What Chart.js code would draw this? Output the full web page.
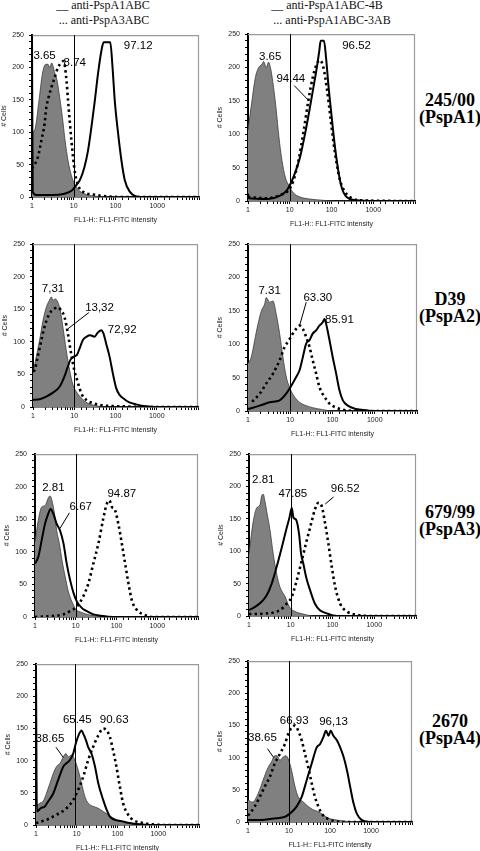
<!DOCTYPE html>
<html lang="en">
<head>
<meta charset="UTF-8">
<title>PspA antibody binding - flow cytometry</title>
<script src="https://cdn.jsdelivr.net/npm/chart.js@4"></script>
<style>
body {
    margin: 0;
    background: #fff;
    width: 480px;
    height: 851px;
    position: relative;
    overflow: hidden;
    font-family: 'Liberation Sans', Arial, sans-serif;
}
canvas { position: absolute; }
.hdr {
    position: absolute;
    font-family: 'Liberation Serif', 'Times New Roman', serif;
    font-size: 12px;
    line-height: 12px;
    color: #111;
    white-space: nowrap;
    transform: translateX(-50%);
}
.strain {
    position: absolute;
    left: 450px;
    transform: translateX(-50%);
    font-family: 'Liberation Serif', 'Times New Roman', serif;
    font-weight: bold;
    font-size: 18px;
    line-height: 17px;
    text-align: center;
    white-space: nowrap;
}
</style>
</head>
<body>
<div class="hdr" style="left:103px;top:-1px">__ anti-PspA1ABC</div>
<div class="hdr" style="left:104px;top:14px">... anti-PspA3ABC</div>
<div class="hdr" style="left:327px;top:-1px">__ anti-PspA1ABC-4B</div>
<div class="hdr" style="left:332px;top:14px">... anti-PspA1ABC-3AB</div>
<div id="strains"></div>
<script>
// [FL1 intensity, # cells]
const gray245L = [[1,100],[1.16,103],[1.47,149],[1.77,190],[2.13,205],[2.42,205],[2.65,200],[2.96,207],[3.5,192],[3.98,180],[4.6,154],[5.35,123],[6.2,87],[7.3,56],[8.8,33],[10.8,18],[14,9],[20,4],[35,1],[73,0],[10000,0]];
const solid245L = [[1,250],[1.04,8],[1.3,3],[3,3],[6,5],[9,10],[12,20],[14,26],[18,46],[22,72],[26.5,108],[32,149],[38,190],[46,226],[52,239],[75,239],[85,200],[96,149],[116,97],[139,56],[167,26],[221,8],[316,1],[500,0],[10000,0]];
const dotted245L = [[1,44],[1.05,46],[1.39,62],[1.67,87],[2.0,113],[2.2,138],[2.5,154],[2.9,169],[3.5,185],[4.2,200],[5.1,208],[5.75,210],[6.7,180],[7.3,149],[8,118],[8.8,87],[9.6,62],[10.8,36],[12.7,18],[16.7,8],[29,4],[61,1],[150,0],[10000,0]];

const gray245R = [[1,106],[1.25,151],[1.5,185],[1.8,200],[2.16,205],[2.37,209],[2.74,200],[3.1,208],[3.5,198],[4.1,170],[4.75,136],[5.5,96],[6.5,61],[7.8,36],[10,21],[12.3,12],[17.7,6],[30,3],[64,1],[110,0],[10000,0]];
const solid245R = [[1,11],[1.05,4],[3,3],[5.9,8],[8.5,16],[11.2,30],[14.8,50],[17.7,66],[23.3,101],[29.6,136],[36.8,170],[44.5,200],[51,225],[55,240],[66,240],[74,215],[84,175],[101,126],[121,81],[145,46],[174,21],[230,6],[400,1],[1000,0],[10000,0]];
const dotted245R = [[1,6],[2.8,4],[5.9,9],[9.3,16],[12.3,31],[16.2,61],[21,101],[28,151],[35.5,185],[44,205],[53,211],[64,200],[77,170],[92,131],[110,91],[133,56],[160,31],[210,14],[275,6],[480,1],[10000,0]];

const grayD39L = [[1,52],[1.2,77],[1.45,103],[1.75,133],[2.1,153],[2.5,164],[2.8,169],[3.05,164],[3.5,166],[4.0,161],[4.6,148],[5.3,123],[6.4,87],[7.7,57],[9.3,34],[11.1,24],[14.7,14],[21,6],[34,2],[60,0],[10000,0]];
const solidD39L = [[1,11],[1.45,12],[2.1,16],[3.05,22],[4.4,31],[5.8,47],[7,62],[8,72],[9.6,77],[11.6,80],[13.5,90],[16.2,103],[20,108],[24.4,110],[31,108],[37,114],[45,118],[51,113],[59,98],[72,77],[86,52],[104,29],[124,19],[165,12],[217,7],[314,4],[550,1],[1000,0],[10000,0]];
const dottedD39L = [[1,55],[1.1,57],[1.3,77],[1.6,103],[1.9,123],[2.5,143],[3.3,151],[4,153],[4.85,148],[5.8,138],[7,113],[8.4,82],[10,57],[12.3,37],[14.8,21],[19.5,11],[28,6],[59,2],[180,1],[400,0],[10000,0]];

const grayD39R = [[1,71],[1.2,81],[1.44,106],[1.72,130],[2.07,150],[2.47,160],[2.7,170],[3.25,163],[3.9,165],[4.67,145],[5.6,116],[6.7,81],[8.05,51],[10,33],[12.7,21],[16.6,13],[23.8,8],[34,5],[59,2],[100,0],[10000,0]];
const solidD39R = [[1,3],[1.9,8],[3.25,13],[5.6,16],[8,26],[10.6,38],[13.8,51],[16.6,61],[19.9,81],[23.8,101],[28.6,106],[34,116],[41,121],[49,128],[59,133],[65,138],[71,130],[85,106],[101,81],[122,56],[146,31],[176,16],[230,8],[360,3],[620,1],[1000,0],[10000,0]];
const dottedD39R = [[1.25,14],[1.9,26],[2.7,41],[3.9,56],[5.6,76],[7.35,96],[9.3,106],[11.5,116],[13.8,123],[16.6,128],[19.9,123],[23.8,111],[28.6,96],[34,76],[41,56],[49,36],[65,21],[85,11],[122,5],[210,1],[400,0],[10000,0]];

const gray679L = [[1,115],[1.2,148],[1.46,169],[1.76,171],[2.13,183],[2.34,186],[2.72,174],[3.1,153],[3.4,133],[3.96,113],[4.6,87],[5.5,62],[6.6,39],[8,24],[10,12],[14,7],[22,3],[40,1],[80,0],[10000,0]];
const solid679L = [[1,82],[1.2,92],[1.46,118],[1.76,143],[2.13,159],[2.4,166],[2.8,159],[3.4,143],[4.1,133],[5,113],[6,82],[7.25,57],[8.8,37],[10.6,24],[14,14],[18.6,9],[27,4],[40,2],[84,0],[10000,0]];
const dotted679L = [[1,0],[2,1],[5,4],[7.25,9],[10.6,16],[15.4,32],[20.5,52],[27,82],[36,113],[48,153],[58,174],[67,179],[77,169],[92,164],[111,143],[135,113],[163,82],[196,52],[237,26],[314,11],[460,4],[800,0],[10000,0]];

const gray679R = [[1,96],[1.27,147],[1.53,167],[1.84,172],[2.0,185],[2.2,188],[2.4,178],[2.65,162],[3.2,132],[3.8,96],[4.6,65],[5.5,45],[7.3,30],[9.3,14],[12.7,7],[20,3],[35,0],[10000,0]];
const solid679R = [[1,9],[1.4,14],[2,22],[2.65,32],[3.5,50],[4.6,76],[6.1,106],[7.7,132],[9.3,152],[10.6,167],[11.6,152],[13.4,149],[15.8,127],[17.7,96],[20,81],[23.4,60],[29,40],[38,19],[50,9],[73,4],[127,0],[10000,0]];
const dotted679R = [[1,3],[2.65,4],[5.5,9],[8,19],[10.6,30],[13.9,55],[18.4,86],[24,116],[32,147],[38,165],[46,175],[55,170],[67,142],[80,111],[96,76],[116,45],[153,19],[220,7],[380,2],[800,0],[10000,0]];

const gray2670L = [[1,29],[1.25,34],[1.5,37],[1.8,49],[2.2,65],[2.65,80],[3.2,91],[3.9,96],[4.7,106],[5.4,111],[6.2,106],[7.5,109],[9,101],[10.9,85],[13.1,65],[15.9,44],[19.1,34],[25,29],[33.7,26],[44.5,21],[59,16],[78,11],[114,6],[200,2],[350,0],[10000,0]];
const solid2670L = [[1,242],[1.05,21],[1.3,26],[1.66,29],[2,37],[2.65,49],[3.5,70],[4.7,91],[5.6,96],[6.8,101],[8.2,111],[9.5,127],[11.5,142],[13.1,147],[14.4,142],[16.8,132],[19.1,121],[23,111],[28,91],[33.7,65],[44.5,39],[54,24],[65,13],[86,8],[125,6],[200,3],[350,1],[620,0],[10000,0]];
const dotted2670L = [[1,3],[1.8,8],[3.2,16],[5.6,26],[8.2,39],[10.9,55],[14.4,75],[19.1,101],[25,121],[33.7,139],[44.5,150],[54,147],[65,137],[78,116],[94,91],[114,60],[137,34],[183,16],[240,8],[420,3],[750,1],[1500,0],[10000,0]];

const gray2670R = [[1,34],[1.3,31],[1.76,44],[2.33,65],[3.1,85],[3.7,93],[4.5,103],[5.1,103],[6,96],[7.2,101],[8.4,103],[9.6,98],[11.6,80],[14,55],[16.8,39],[22.4,31],[29.5,24],[39,19],[52,16],[69,11],[92,6],[147,3],[260,1],[550,0],[10000,0]];
const solid2670R = [[1,3],[1.93,3],[4.95,6],[7.9,8],[10.5,13],[15.3,24],[20.4,39],[27,65],[35.8,91],[47.5,116],[57,121],[69,132],[80,142],[92,134],[104,142],[121,134],[147,127],[177,116],[215,101],[260,80],[310,55],[375,29],[450,13],[600,3],[960,0],[10000,0]];
const dotted2670R = [[1,10],[1.1,13],[1.45,24],[1.93,39],[2.56,55],[3.4,70],[4.5,91],[6,106],[7.9,121],[9.6,137],[11.6,147],[14,150],[16.8,142],[20.4,127],[24.5,106],[29.5,85],[35.8,60],[43,39],[52,24],[63,13],[83,6],[121,2],[215,0],[10000,0]];

// gate (marker) positions, FL1 intensity
const gates = [10, 10, 10, 10, 10, 10, 9.3, 10];

// percent-positive values, placed in data units; 'from'/'to' = leader line
const notes245L = [{ t: '3.65', x: 2.0, y: 218 }, { t: '8.74', x: 10.6, y: 207 }, { t: '97.12', x: 350, y: 234 }];
const notes245R = [{ t: '3.65', x: 3.4, y: 216 }, { t: '94.44', x: 10.6, y: 183, from: [12.8, 173], to: [28, 151] }, { t: '96.52', x: 398, y: 233 }];
const notesD39L = [{ t: '7,31', x: 3.05, y: 181 }, { t: '13,32', x: 41, y: 153, from: [22.6, 145], to: [7, 120] }, { t: '72,92', x: 145, y: 118 }];
const notesD39R = [{ t: '7.31', x: 3.25, y: 180 }, { t: '63.30', x: 45, y: 170, from: [23.9, 163], to: [16.6, 128] }, { t: '85.91', x: 146, y: 136 }];
const notes679L = [{ t: '2.81', x: 2.82, y: 198 }, { t: '6.67', x: 13.3, y: 169, from: [7.0, 160], to: [4.1, 136] }, { t: '94.87', x: 135, y: 189 }];
const notes679R = [{ t: '2.81', x: 2.2, y: 211 }, { t: '47.85', x: 11.2, y: 189 }, { t: '96.52', x: 201, y: 197, from: [106, 184], to: [67, 173] }];
const notes2670L = [{ t: '38.65', x: 2.2, y: 134, from: [3.09, 121], to: [4.67, 105] }, { t: '65.45', x: 10.3, y: 163 }, { t: '90.63', x: 83, y: 163 }];
const notes2670R = [{ t: '38.65', x: 2.25, y: 131, from: [2.98, 114], to: [4.26, 100] }, { t: '66,93', x: 13.4, y: 157 }, { t: '96,13', x: 122, y: 155 }];

const strains = ['245/00', 'D39', '679/99', '2670'];
const pspFamilies = ['(PspA1)', '(PspA2)', '(PspA3)', '(PspA4)'];
const xTitle = 'FL1-H:: FL1-FITC intensity';
const yTitle = '# Cells';

// page layout: plot-area rectangles [left, top, right, bottom]
const areas = [
    [32, 34, 199, 197], [248, 33, 415, 201],
    [33, 243, 198, 407], [248, 243, 417, 411],
    [35, 453, 198, 617], [249, 453, 416, 616],
    [36, 663, 199, 825], [248, 660, 412, 822]
];
const strainTops = [92, 291, 504, 713];

const panels = [
    [gray245L, solid245L, dotted245L, notes245L],
    [gray245R, solid245R, dotted245R, notes245R],
    [grayD39L, solidD39L, dottedD39L, notesD39L],
    [grayD39R, solidD39R, dottedD39R, notesD39R],
    [gray679L, solid679L, dotted679L, notes679L],
    [gray679R, solid679R, dotted679R, notes679R],
    [gray2670L, solid2670L, dotted2670L, notes2670L],
    [gray2670R, solid2670R, dotted2670R, notes2670R]
];

const AX_W = 34, AX_H = 30, PAD = 8;

function toXY(pairs) {
    return pairs.map(p => ({ x: p[0], y: p[1] }));
}

function isDecade(v) {
    const l = Math.log10(v);
    return Math.abs(l - Math.round(l)) < 1e-6 && v < 10000;
}

function overlay(gate, notes) {
    return {
        id: 'overlay',
        beforeDatasetsDraw(chart) {
            const { ctx, chartArea: a } = chart;
            ctx.save();
            ctx.strokeStyle = '#9a9a9a';
            ctx.lineWidth = 1.2;
            ctx.beginPath();
            ctx.moveTo(a.left, a.top + 0.5);
            ctx.lineTo(a.right - 0.5, a.top + 0.5);
            ctx.lineTo(a.right - 0.5, a.bottom);
            ctx.stroke();
            ctx.restore();
        },
        afterDatasetsDraw(chart) {
            const { ctx, chartArea: a, scales: { x, y } } = chart;
            ctx.save();
            const gx = Math.round(x.getPixelForValue(gate)) + 0.5;
            ctx.strokeStyle = '#000';
            ctx.lineWidth = 1;
            ctx.beginPath();
            ctx.moveTo(gx, a.top);
            ctx.lineTo(gx, a.bottom);
            ctx.stroke();

            ctx.font = '11.5px "Liberation Sans", Arial, sans-serif';
            ctx.fillStyle = '#000';
            ctx.textAlign = 'center';
            ctx.textBaseline = 'middle';
            notes.forEach(n => {
                ctx.fillText(n.t, x.getPixelForValue(n.x), y.getPixelForValue(n.y));
                if (n.from) {
                    ctx.beginPath();
                    ctx.moveTo(x.getPixelForValue(n.from[0]), y.getPixelForValue(n.from[1]));
                    ctx.lineTo(x.getPixelForValue(n.to[0]), y.getPixelForValue(n.to[1]));
                    ctx.stroke();
                }
            });
            ctx.restore();
        }
    };
}

panels.forEach((p, i) => {
    const [l, t, r, b] = areas[i];
    const cv = document.createElement('canvas');
    cv.width = r - l + AX_W + PAD;
    cv.height = b - t + PAD + AX_H;
    cv.style.left = (l - AX_W) + 'px';
    cv.style.top = (t - PAD) + 'px';
    document.body.appendChild(cv);

    new Chart(cv.getContext('2d'), {
        type: 'line',
        data: {
            datasets: [
                { data: toXY(p[1]), borderColor: '#000', borderWidth: 2, fill: false, order: 1 },
                { data: toXY(p[2]), borderColor: '#000', borderWidth: 2.6, borderDash: [2.4, 3.2], fill: false, order: 2 },
                { data: toXY(p[0]), borderColor: '#3c3c3c', borderWidth: 0.8, backgroundColor: '#808080', fill: 'origin', order: 3 }
            ]
        },
        options: {
            responsive: false,
            animation: false,
            devicePixelRatio: 1,
            events: [],
            layout: { padding: { top: PAD, right: PAD, left: 0, bottom: 0 } },
            elements: {
                point: { radius: 0 },
                line: { tension: 0.35, cubicInterpolationMode: 'monotone' }
            },
            plugins: { legend: { display: false }, tooltip: { enabled: false } },
            scales: {
                x: {
                    type: 'logarithmic',
                    min: 1,
                    max: 10000,
                    afterFit: s => { s.height = AX_H; },
                    border: { color: '#000', width: 1.5 },
                    grid: { drawOnChartArea: false, drawTicks: true, tickLength: 3, color: '#000' },
                    ticks: {
                        autoSkip: false,
                        maxRotation: 0,
                        minRotation: 0,
                        padding: 2,
                        color: '#222',
                        font: { size: 7, family: '"Liberation Sans", Arial, sans-serif' },
                        callback: v => isDecade(v) ? String(v) : ''
                    },
                    title: {
                        display: true,
                        text: xTitle,
                        color: '#222',
                        padding: { top: 0, bottom: 3 },
                        font: { size: 7, family: '"Liberation Sans", Arial, sans-serif' }
                    }
                },
                y: {
                    min: 0,
                    max: 250,
                    afterFit: s => { s.width = AX_W; },
                    border: { color: '#000', width: 2 },
                    grid: { drawOnChartArea: false, drawTicks: true, tickLength: 3, color: '#000' },
                    ticks: {
                        stepSize: 10,
                        autoSkip: false,
                        padding: 5,
                        color: '#222',
                        font: { size: 7, family: '"Liberation Sans", Arial, sans-serif' },
                        callback: v => v % 50 === 0 ? String(v) : ''
                    },
                    title: {
                        display: true,
                        text: yTitle,
                        color: '#222',
                        padding: { top: 2, bottom: 0 },
                        font: { size: 7, family: '"Liberation Sans", Arial, sans-serif' }
                    }
                }
            }
        },
        plugins: [overlay(gates[i], p[3])]
    });
});

const box = document.getElementById('strains');
strains.forEach((s, i) => {
    const d = document.createElement('div');
    d.className = 'strain';
    d.style.top = strainTops[i] + 'px';
    d.innerHTML = s + '<br>' + pspFamilies[i];
    box.appendChild(d);
});
</script>
</body>
</html>
